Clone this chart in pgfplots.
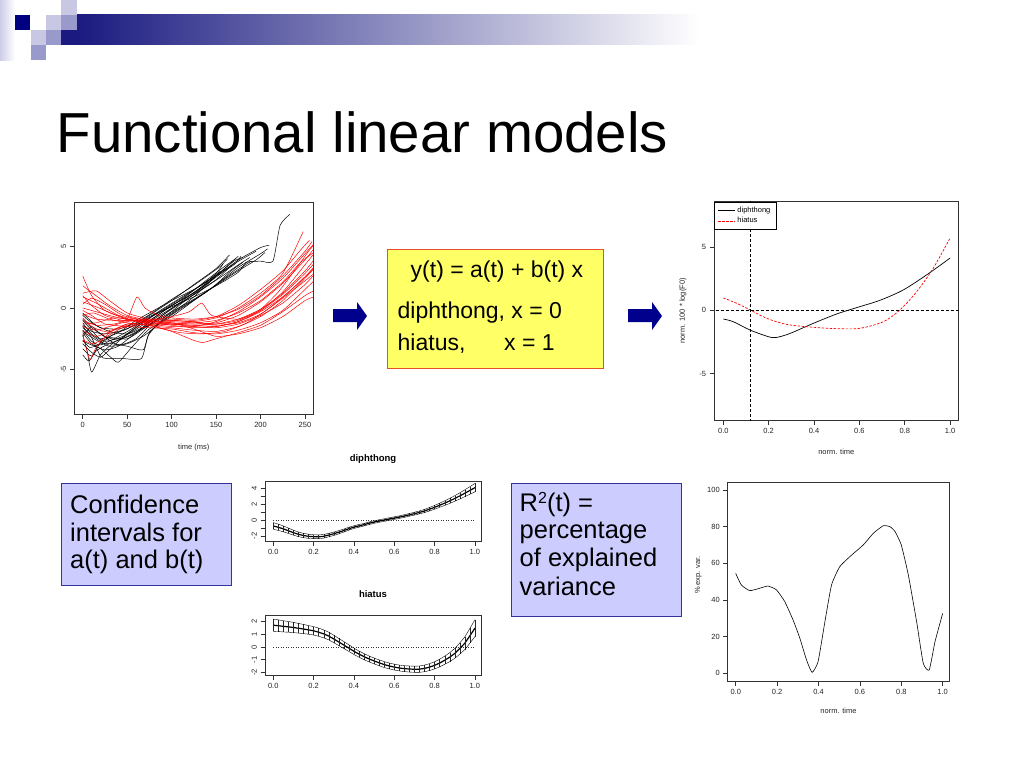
\documentclass[border=0pt]{standalone}
\usepackage{pgfplots}
\pgfplotsset{compat=1.18}
\usepackage{pgfplotstable}
\usepackage{fontspec}
\setmainfont{Liberation Sans}
\definecolor{navyA}{RGB}{0,0,128}
\definecolor{lavA}{RGB}{200,200,228}
\definecolor{lavB}{RGB}{153,153,204}
\definecolor{barL}{RGB}{26,26,128}
\definecolor{barR}{RGB}{255,255,255}
\definecolor{boxfill}{RGB}{204,204,255}
\definecolor{boxdraw}{RGB}{51,51,153}
\definecolor{yfill}{RGB}{255,255,102}
\definecolor{ydraw}{RGB}{230,80,40}
\definecolor{arrowc}{RGB}{0,0,140}
\pgfplotsset{
 rax/.style={scale only axis, anchor=north west, no markers,
  axis line style={black!80, line width=0.6pt},
  tick style={black!80, line width=0.5pt},
  tick align=outside, xtick pos=bottom, ytick pos=left,
  major tick length=4.5pt, minor tick length=4.5pt,
  ticklabel style={font=\fontsize{7.5}{8}\selectfont, text=black!85},
  label style={font=\fontsize{7.5}{8}\selectfont, text=black!85},
  /pgf/number format/assume math mode=true, enlargelimits=false},
 bl/.style={black, line width=0.5pt, smooth, tension=0.35, mark=none},
 rl/.style={red, line width=0.5pt, smooth, tension=0.35, mark=none},
}
\pgfplotstableread{
x y e
0.000 -0.71 0.42
0.025 -0.88 0.40
0.050 -1.08 0.37
0.075 -1.32 0.34
0.100 -1.56 0.31
0.125 -1.77 0.29
0.150 -1.92 0.27
0.175 -2.02 0.26
0.200 -2.07 0.25
0.225 -2.08 0.24
0.250 -2.02 0.23
0.275 -1.86 0.22
0.300 -1.70 0.21
0.325 -1.50 0.20
0.350 -1.29 0.19
0.375 -1.06 0.18
0.400 -0.86 0.17
0.425 -0.70 0.17
0.450 -0.55 0.16
0.475 -0.37 0.16
0.500 -0.22 0.16
0.525 -0.09 0.16
0.550 0.03 0.16
0.575 0.16 0.16
0.600 0.28 0.16
0.625 0.40 0.16
0.650 0.54 0.17
0.675 0.69 0.17
0.700 0.84 0.18
0.725 1.00 0.19
0.750 1.18 0.20
0.775 1.40 0.22
0.800 1.64 0.24
0.825 1.90 0.26
0.850 2.17 0.29
0.875 2.45 0.32
0.900 2.76 0.35
0.925 3.08 0.39
0.950 3.42 0.43
0.975 3.77 0.48
1.000 4.12 0.53
}\diph
\pgfplotstableread{
x y e
0.000 1.71 0.48
0.025 1.67 0.46
0.050 1.62 0.44
0.075 1.58 0.42
0.100 1.53 0.40
0.125 1.47 0.38
0.150 1.41 0.36
0.175 1.34 0.34
0.200 1.27 0.33
0.225 1.16 0.32
0.250 1.03 0.31
0.275 0.86 0.30
0.300 0.63 0.29
0.325 0.39 0.28
0.350 0.15 0.27
0.375 -0.09 0.26
0.400 -0.34 0.25
0.425 -0.56 0.24
0.450 -0.76 0.24
0.475 -0.94 0.23
0.500 -1.10 0.23
0.525 -1.24 0.23
0.550 -1.38 0.23
0.575 -1.49 0.23
0.600 -1.58 0.23
0.625 -1.65 0.23
0.650 -1.70 0.23
0.675 -1.73 0.24
0.700 -1.75 0.24
0.725 -1.74 0.25
0.750 -1.68 0.26
0.775 -1.58 0.27
0.800 -1.44 0.28
0.825 -1.26 0.30
0.850 -1.04 0.32
0.875 -0.80 0.35
0.900 -0.50 0.39
0.925 -0.12 0.44
0.950 0.30 0.50
0.975 0.88 0.58
1.000 1.48 0.66
}\hiat
\begin{document}
\begin{tikzpicture}
\begin{scope}[x=1pt,y=-1pt]
\path[use as bounding box] (0,0) rectangle (1024,768);
\fill[white] (0,0) rectangle (1024,768);
% logo
\shade[left color={rgb,255:red,205;green,205;blue,232}, right color=white] (0,0) rectangle (15,60);
\shade[left color=barL, right color=barR] (77,15) rectangle (700,45);
\fill[barL] (61,30) rectangle (77,45);
\fill[navyA] (15,15) rectangle (30,30);
\fill[lavA] (31,30) rectangle (46,45);
\fill[lavB] (31,45) rectangle (46,60);
\fill[lavA] (46,15) rectangle (61,30);
\fill[lavB] (46,30) rectangle (61,45);
\fill[lavA] (61,0) rectangle (77,15);
\fill[lavB] (61,15) rectangle (77,30);
% title
\node[anchor=base west, inner sep=0pt, font=\fontsize{56.4}{60}\selectfont] at (56.5,152) {Functional linear models};
% yellow box
\draw[fill=yfill, draw=ydraw, line width=1pt] (387.5,249) rectangle (603.5,368.5);
\begin{scope}[every node/.style={anchor=base west, inner sep=0pt, font=\fontsize{23}{27}\selectfont}]
\node at (410.5,277) {y(t) = a(t) + b(t) x};
\node at (397.5,318) {diphthong, x = 0};
\node at (397.5,350) {hiatus,};
\node at (504,350) {x = 1};
\end{scope}
% arrows
\fill[arrowc] (333,309)--(357,309)--(357,302)--(367,316)--(357,330)--(357,322)--(333,322)--cycle;
\fill[arrowc] (628,309)--(652,309)--(652,302)--(662,316)--(652,330)--(652,322)--(628,322)--cycle;
% lavender boxes
\draw[fill=boxfill, draw=boxdraw, line width=1pt] (61.7,483.3) rectangle (231,585);
\draw[fill=boxfill, draw=boxdraw, line width=1pt] (511,483.3) rectangle (681,616.7);
\begin{scope}[every node/.style={anchor=base west, inner sep=0pt, font=\fontsize{25.5}{30}\selectfont}]
\node at (70,513.3) {Confidence};
\node at (70,541.3) {intervals for};
\node at (70,568.8) {a(t) and b(t)};
\node at (519.5,511.7) {R{\fontsize{16}{18}\selectfont\raisebox{8pt}{2}}(t) =};
\node at (519.5,538.8) {percentage};
\node at (519.5,566.7) {of explained};
\node at (519.5,595) {variance};
\end{scope}
\end{scope}

% ---------- top-left spaghetti plot
\begin{axis}[rax, at={(74.3pt,-202pt)}, width=239pt, height=212pt,
 xmin=-9.5, xmax=259.4, ymin=-8.6, ymax=8.6,
 xtick={0,50,100,150,200,250}, ytick={-5,0,5}, yticklabels={-5,0,5},
 yticklabel style={rotate=90, anchor=south},
 xlabel={time (ms)}, xlabel style={at={(axis description cs:0.5,-0.156)}, anchor=center}]
\addplot[bl] coordinates {(0,-2.2)(5,-3.5)(10,-5.2)(20,-3.8)(35,-2.8)(50,-2.3)(75,-1.4)(100,-0.4)(125,0.9)(150,2.6)(175,4.2)};
\addplot[bl] coordinates {(0,-1.5)(10,-2.4)(20,-3.9)(27,-4.1)(45,-4.1)(66,-4.1)(74,-2.2)(90,-0.9)(110,0.3)(130,1.4)(150,2.6)(170,3.8)(180,4.1)};
\addplot[bl] coordinates {(0,-0.9)(10,-1.6)(25,-2.3)(40,-2.6)(60,-2.0)(80,-0.8)(100,0.2)(125,1.2)(150,2.5)(175,3.9)(200,4.9)(210,5.1)};
\addplot[bl] coordinates {(0,-1.8)(10,-2.7)(20,-3.0)(35,-2.5)(55,-1.7)(75,-0.7)(100,0.1)(125,0.9)(150,1.8)(175,2.9)(184,3.7)(200,3.8)(214,3.8)(222,6.7)(233,7.6)};
\addplot[bl] coordinates {(0,-2.6)(8,-3.2)(20,-2.9)(35,-2.1)(50,-1.7)(75,-0.6)(100,0.6)(125,1.9)(150,3.2)(165,4.3)};
\addplot[bl] coordinates {(0,-1.2)(10,-2.1)(25,-2.7)(45,-2.3)(65,-1.3)(85,-0.3)(105,0.6)(130,1.7)(155,2.9)(180,4.0)(195,4.6)};
\addplot[bl] coordinates {(0,-2.9)(10,-3.6)(20,-4.0)(30,-3.4)(45,-2.4)(65,-1.5)(90,-0.3)(115,0.9)(140,2.3)(160,3.4)(172,4.0)};
\addplot[bl] coordinates {(0,-0.6)(12,-1.3)(30,-1.9)(50,-2.1)(70,-1.5)(95,-0.5)(120,0.5)(145,1.6)(170,2.8)(195,3.9)(205,4.5)};
\addplot[bl] coordinates {(0,-3.3)(10,-3.9)(20,-2.8)(30,-2.4)(50,-2.5)(70,-1.6)(95,-0.3)(120,1.0)(145,2.3)(160,3.2)};
\addplot[bl] coordinates {(0,-1.9)(15,-2.6)(30,-3.1)(50,-2.9)(70,-2.2)(90,-1.0)(110,0.0)(135,1.1)(160,2.4)(185,3.6)(190,3.8)};
\addplot[bl] coordinates {(0,-2.3)(10,-1.5)(20,-2.1)(40,-3.0)(60,-2.5)(78,-1.2)(100,-0.1)(125,1.1)(150,2.3)(168,3.5)};
\addplot[bl] coordinates {(0,-1.0)(10,-1.8)(20,-2.5)(40,-2.0)(60,-1.0)(80,-0.2)(100,0.6)(125,1.5)(150,2.6)(170,3.5)(178,4.2)};
\addplot[bl] coordinates {(0,-3.8)(7,-4.3)(15,-3.5)(30,-2.9)(50,-3.1)(68,-3.4)(75,-2.0)(95,-0.8)(120,0.4)(145,1.6)(165,2.9)(180,3.7)};
\addplot[bl] coordinates {(0,-2.0)(10,-2.9)(25,-3.4)(40,-3.1)(60,-2.0)(80,-0.9)(105,0.2)(130,1.3)(155,2.5)(175,3.5)(188,4.1)};
\addplot[bl] coordinates {(0,-1.4)(10,-1.9)(25,-2.1)(45,-1.8)(65,-1.2)(85,-0.4)(105,0.4)(130,1.5)(150,2.8)(158,3.6)};
\addplot[bl] coordinates {(0,-2.7)(10,-3.0)(20,-3.3)(30,-3.9)(40,-4.4)(55,-3.2)(75,-1.7)(100,-0.7)(125,0.6)(150,1.9)(175,3.3)(200,4.4)(208,4.8)};
\addplot[bl] coordinates {(0,-1.6)(10,-2.2)(25,-2.9)(40,-2.6)(60,-1.6)(80,-0.6)(100,0.3)(120,1.2)(140,2.2)(155,3.0)};
\addplot[bl] coordinates {(0,-0.4)(10,-1.1)(20,-1.6)(40,-1.7)(60,-1.2)(80,-0.3)(100,0.7)(120,1.6)(140,2.6)(155,3.4)(163,4.0)};
\addplot[rl] coordinates {(0,2.6)(10,1.0)(25,-0.2)(50,-0.9)(75,-1.1)(100,-1.2)(125,-1.3)(150,-1.2)(175,-0.6)(200,0.5)(225,2.0)(250,3.9)(260,4.8)};
\addplot[rl] coordinates {(0,1.2)(15,1.4)(30,0.6)(50,-0.4)(75,-0.9)(100,-1.0)(125,-1.1)(150,-0.8)(175,0.0)(200,1.2)(225,2.8)(248,6.2)};
\addplot[rl] coordinates {(0,-0.5)(15,-0.9)(35,-1.0)(50,-1.0)(75,-1.2)(100,-1.3)(125,-1.4)(150,-1.3)(175,-0.9)(200,-0.1)(225,1.2)(250,3.0)(260,3.9)};
\addplot[rl] coordinates {(0,-2.1)(8,-4.2)(15,-3.2)(30,-2.0)(50,-1.3)(75,-1.2)(100,-1.4)(125,-1.6)(150,-1.5)(175,-1.1)(200,-0.3)(225,0.9)(250,2.5)(260,3.3)};
\addplot[rl] coordinates {(0,0.5)(15,0.1)(35,-0.5)(50,-0.8)(60,-0.9)(70,-1.4)(100,-1.6)(125,-1.8)(150,-1.9)(175,-1.5)(200,-0.7)(225,0.6)(250,2.4)(259,3.1)};
\addplot[rl] coordinates {(0,-1.0)(15,-1.4)(35,-1.3)(50,-0.9)(61,0.9)(70,0.0)(85,-0.6)(100,-0.8)(125,-0.9)(150,-0.7)(175,-0.1)(200,1.0)(225,2.6)(250,4.6)(258,5.4)};
\addplot[rl] coordinates {(0,-1.8)(15,-2.3)(35,-1.8)(50,-1.3)(75,-1.4)(100,-1.9)(124,-2.6)(135,-2.8)(150,-2.5)(175,-2.0)(200,-1.4)(225,-0.3)(250,1.0)(260,1.4)};
\addplot[rl] coordinates {(0,0.9)(15,0.4)(35,-0.4)(50,-0.9)(75,-1.0)(100,-0.7)(120,-0.3)(134,0.4)(145,-0.6)(175,-0.9)(200,-0.2)(225,1.3)(250,3.5)(259,4.3)};
\addplot[rl] coordinates {(0,-1.3)(15,-1.2)(35,-0.8)(50,-0.9)(75,-1.3)(100,-1.5)(125,-1.5)(150,-1.1)(175,-0.3)(200,0.9)(225,2.4)(245,4.0)(260,5.2)};
\addplot[rl] coordinates {(0,-0.2)(10,-0.6)(25,-1.3)(50,-1.5)(75,-1.6)(100,-1.7)(125,-2.0)(150,-2.1)(175,-1.8)(200,-1.2)(225,-0.2)(250,1.5)(260,2.2)};
\addplot[rl] coordinates {(0,1.8)(15,1.0)(30,0.2)(50,-0.6)(75,-1.0)(100,-1.1)(125,-1.2)(150,-1.0)(175,-0.4)(200,0.6)(225,2.1)(245,3.7)(260,4.5)};
\addplot[rl] coordinates {(0,-2.6)(12,-2.9)(25,-2.4)(45,-1.6)(70,-1.3)(100,-1.3)(125,-1.5)(150,-1.6)(175,-1.3)(200,-0.6)(225,0.4)(250,1.9)(259,2.6)};
\addplot[rl] coordinates {(0,0.0)(15,-0.3)(35,-0.7)(55,-1.0)(80,-1.1)(100,-1.0)(120,-1.1)(150,-1.3)(175,-1.0)(200,-0.1)(220,1.3)(240,3.2)(255,4.7)(260,5.1)};
\addplot[rl] coordinates {(0,-0.8)(10,-1.5)(25,-1.9)(45,-1.5)(70,-1.1)(100,-1.2)(125,-1.7)(150,-2.3)(175,-2.1)(200,-1.6)(225,-0.7)(250,0.6)(260,0.9)};
\addplot[rl] coordinates {(0,0.3)(10,0.8)(25,0.3)(45,-0.6)(70,-1.0)(100,-1.3)(125,-1.4)(150,-1.5)(175,-1.1)(200,-0.2)(225,1.1)(250,2.8)(260,3.6)};
\addplot[rl] coordinates {(0,-1.5)(15,-1.8)(30,-1.5)(50,-1.1)(75,-0.9)(100,-0.9)(125,-1.0)(150,-0.7)(175,0.2)(200,1.5)(225,3.0)(245,4.7)(255,5.5)};
\addplot[rl] coordinates {(0,-0.6)(12,-0.4)(30,-0.9)(50,-1.2)(75,-1.4)(100,-1.3)(125,-1.2)(150,-1.4)(175,-1.2)(200,-0.5)(225,0.8)(250,2.2)(260,2.8)};
\addplot[rl] coordinates {(0,1.0)(10,0.2)(25,-0.6)(45,-1.0)(65,-1.1)(85,-1.6)(110,-2.0)(135,-2.1)(160,-1.9)(185,-1.2)(210,0.0)(235,1.5)(255,2.9)(260,3.3)};
\end{axis}

% ---------- top-right fitted curves
\begin{axis}[rax, at={(714pt,-201.7pt)}, width=244.7pt, height=218.3pt,
 xmin=-0.041, xmax=1.038, ymin=-8.66, ymax=8.57,
 xtick={0,0.2,0.4,0.6,0.8,1}, xticklabels={0.0,0.2,0.4,0.6,0.8,1.0},
 ytick={-5,0,5}, yticklabels={-5,0,5},
 xlabel={norm. time}, xlabel style={at={(axis description cs:0.5,-0.147)}, anchor=center},
 ylabel={norm. 100 * log(F0)}, ylabel style={at={(axis description cs:-0.127,0.5)}, anchor=center},
 legend style={at={(0,1)}, anchor=north west, draw=black, line width=0.5pt,
   font=\fontsize{7.5}{8.5}\selectfont, inner xsep=3.5pt, inner ysep=3pt, row sep=-0.5pt, cells={anchor=west}},
 legend image code/.code={\draw[#1] (0pt,0pt) -- (17pt,0pt);}]
\addplot[black, line width=0.7pt, smooth, mark=none] coordinates {(0,-0.69)(0.044,-0.9)(0.118,-1.56)(0.2,-2.09)(0.235,-2.14)(0.294,-1.83)(0.397,-1.03)(0.5,-0.29)(0.588,0.21)(0.691,0.79)(0.794,1.61)(0.897,2.80)(1.0,4.12)};
\addlegendentry{diphthong}
\addplot[red, line width=0.7pt, dash pattern=on 2.5pt off 1.5pt, smooth, mark=none] coordinates {(0,0.98)(0.059,0.55)(0.118,0.03)(0.191,-0.63)(0.279,-1.11)(0.382,-1.32)(0.5,-1.45)(0.603,-1.42)(0.706,-0.9)(0.779,0.03)(0.853,1.48)(0.926,3.33)(1.0,5.7)};
\addlegendentry{hiatus}
\addplot[black, line width=0.5pt, dash pattern=on 3pt off 2pt, forget plot] coordinates {(-0.1,0)(1.1,0)};
\addplot[black, line width=0.5pt, dash pattern=on 3pt off 2pt, forget plot] coordinates {(0.12,-10)(0.12,10)};
\end{axis}

% ---------- diphthong CI
\begin{axis}[rax, at={(265pt,-481pt)}, width=216pt, height=60.7pt,
 xmin=-0.041, xmax=1.03, ymin=-2.7, ymax=4.96,
 xtick={0,0.2,0.4,0.6,0.8,1}, xticklabels={0.0,0.2,0.4,0.6,0.8,1.0},
 ytick={-2,-1,0,1,2,3,4}, yticklabels={-2,,0,,2,,4},
 yticklabel style={rotate=90, anchor=south},
 title={diphthong}, title style={at={(axis description cs:0.5,1.264)}, anchor=center, font=\bfseries\fontsize{9.5}{10}\selectfont}]
\addplot[black!80, dotted, line width=0.5pt] coordinates {(0,0)(1,0)};
\addplot[black, line width=1.2pt, mark=none, error bars/.cd, y dir=both, y explicit, error mark=none, error bar style={line width=0.35pt, black!85}] table[x=x, y=y, y error=e] {\diph};
\addplot[black, line width=0.4pt, mark=none] table[x=x, y expr=\thisrow{y}+\thisrow{e}] {\diph};
\addplot[black, line width=0.4pt, mark=none] table[x=x, y expr=\thisrow{y}-\thisrow{e}] {\diph};
\end{axis}

% ---------- hiatus CI
\begin{axis}[rax, at={(265pt,-615pt)}, width=216pt, height=60pt,
 xmin=-0.041, xmax=1.03, ymin=-2.2, ymax=2.51,
 xtick={0,0.2,0.4,0.6,0.8,1}, xticklabels={0.0,0.2,0.4,0.6,0.8,1.0},
 ytick={-2,-1,0,1,2}, yticklabels={-2,-1,0,1,2},
 yticklabel style={rotate=90, anchor=south},
 title={hiatus}, title style={at={(axis description cs:0.5,1.25)}, anchor=center, font=\bfseries\fontsize{9.5}{10}\selectfont}]
\addplot[black!80, dotted, line width=0.5pt] coordinates {(0,0)(1,0)};
\addplot[black, line width=1.2pt, mark=none, error bars/.cd, y dir=both, y explicit, error mark=none, error bar style={line width=0.35pt, black!85}] table[x=x, y=y, y error=e] {\hiat};
\addplot[black, line width=0.4pt, mark=none] table[x=x, y expr=\thisrow{y}+\thisrow{e}] {\hiat};
\addplot[black, line width=0.4pt, mark=none] table[x=x, y expr=\thisrow{y}-\thisrow{e}] {\hiat};
\end{axis}

% ---------- R^2
\begin{axis}[rax, at={(727.7pt,-482.3pt)}, width=221.6pt, height=199.4pt,
 xmin=-0.0387, xmax=1.032, ymin=-4.6, ymax=104.2,
 xtick={0,0.2,0.4,0.6,0.8,1}, xticklabels={0.0,0.2,0.4,0.6,0.8,1.0},
 ytick={0,20,40,60,80,100},
 xlabel={norm. time}, xlabel style={at={(axis description cs:0.5,-0.147)}, anchor=center},
 ylabel={\% exp. var.}, ylabel style={at={(axis description cs:-0.133,0.535)}, anchor=center}]
\addplot[black, line width=0.6pt, mark=none, smooth, tension=0.3] coordinates {(0,54.5)(0.027,48.2)(0.068,45.1)(0.116,46.4)(0.156,47.6)(0.197,45.5)(0.237,39.1)(0.277,29.1)(0.31,19.1)(0.342,7.3)(0.369,0.5)(0.398,6.4)(0.431,28.2)(0.463,48.2)(0.503,58.2)(0.56,64.5)(0.616,70)(0.665,76.4)(0.713,80.5)(0.745,80)(0.77,77.3)(0.8,70)(0.834,53.6)(0.874,28.2)(0.906,5.5)(0.935,1.8)(0.963,17.3)(1.0,32.7)};
\end{axis}
\end{tikzpicture}
\end{document}
